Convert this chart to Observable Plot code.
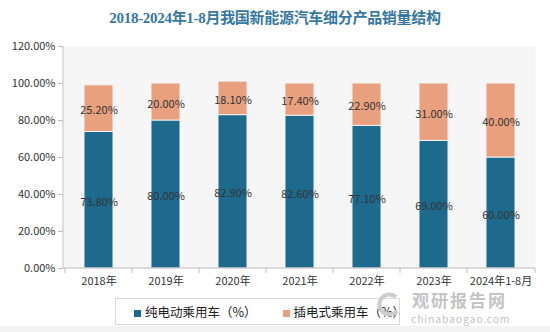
<!DOCTYPE html>
<html><head><meta charset="utf-8">
<script src="https://cdn.jsdelivr.net/npm/d3@7"></script>
<script src="https://cdn.jsdelivr.net/npm/@observablehq/plot@0.6"></script>
<style>
body{margin:0;background:#fff;font-family:"Noto Sans CJK SC","Noto Sans",sans-serif;}
#wrap{position:relative;width:550px;height:332px;overflow:hidden;}
#title{position:absolute;left:0;top:6px;width:550px;text-align:center;font-size:15px;font-weight:bold;color:#37789f;letter-spacing:-0.3px;font-family:"Liberation Serif","Noto Sans CJK SC",serif;}
#chart{position:absolute;left:0;top:36px;}
#legend{position:absolute;left:115px;top:298px;width:285px;height:27px;border:1px solid #d9d9d9;box-sizing:border-box;font-size:12.5px;color:#222;display:flex;align-items:center;gap:26px;padding-left:18px;white-space:nowrap;}
#legend span.sw{display:inline-block;width:7px;height:7px;margin-right:4px;vertical-align:middle;}
#wm{position:absolute;left:408px;top:291px;color:#c4c4c4;}
#wm .a{font-size:17px;font-weight:bold;letter-spacing:2px;position:absolute;left:4px;top:0px;white-space:nowrap;line-height:18px;}
#wm .b{font-size:10.5px;position:absolute;left:3px;top:22px;white-space:nowrap;letter-spacing:0.8px;line-height:11px;}
#bottom{position:absolute;left:0;top:326px;width:550px;height:6px;background:#f3f3f3;}
</style></head>
<body><div id="wrap">
<div id="title">2018-2024年1-8月我国新能源汽车细分产品销量结构</div>
<div id="chart"></div>
<div id="legend"></div>
<div id="wm"><svg width="30" height="30" style="position:absolute;left:-34px;top:-1px"><path d="M22 7 A10 10 0 1 0 23 21" fill="none" stroke="#cccccc" stroke-width="4"/></svg><div class="a">观研报告网</div><div class="b">chinabaogao.com</div></div>
<div id="bottom"></div>
</div>
<script>
const years = ["2018年","2019年","2020年","2021年","2022年","2023年","2024年1-8月"];
const bev = [73.8, 80.0, 82.9, 82.6, 77.1, 69.0, 60.0];
const phev = [25.2, 20.0, 18.1, 17.4, 22.9, 31.0, 40.0];
const seriesNames = ["纯电动乘用车（%）","插电式乘用车（%）"];
const colors = ["#1d6a8d","#e8a07e"];
const yTicks = [0,20,40,60,80,100,120];

const rows = [];
years.forEach((y,i)=>{
  rows.push({year:y, s:seriesNames[0], v:bev[i]});
  rows.push({year:y, s:seriesNames[1], v:phev[i]});
});

const fmt = v => v.toFixed(2) + "%";

const axisLines = (index, scales, values, dims) => {
  const g = d3.create("svg:g");
  const x = scales.x, step = x.step();
  const y0 = dims.height - dims.marginBottom;
  const xs = years.map(d => x(d) - (step - x.bandwidth())/2);
  xs.push(dims.width - dims.marginRight);
  xs.forEach(px => g.append("line").attr("x1",px).attr("x2",px).attr("y1",y0).attr("y2",y0+5).attr("stroke","#bfbfbf"));
  g.append("line").attr("x1",dims.marginLeft).attr("x2",dims.width-dims.marginRight).attr("y1",y0).attr("y2",y0).attr("stroke","#bfbfbf");
  g.append("line").attr("x1",dims.marginLeft).attr("x2",dims.marginLeft).attr("y1",dims.marginTop).attr("y2",y0).attr("stroke","#bfbfbf");
  return g.node();
};

const chart = Plot.plot({
  width: 550, height: 260,
  marginTop: 10, marginBottom: 28, marginLeft: 63, marginRight: 15,
  style: {fontFamily: '"Noto Sans CJK SC","Noto Sans",sans-serif', fontSize: "11px", color: "#333"},
  x: {domain: years, paddingInner: 0.57, paddingOuter: 0.285, label: null},
  y: {domain: [0,120], ticks: yTicks, label: null, tickFormat: fmt},
  color: {domain: seriesNames, range: colors},
  marks: [
    Plot.frame({fill: "url(#hatch)", stroke: null}),
    Plot.axisY({ticks: yTicks, tickFormat: fmt, tickSize: 5, stroke: "#bfbfbf", fill: "#333", fontSize: 11, tickPadding: 3}),
    Plot.axisX({tickSize: 0, tickPadding: 9, fill: "#333", fontSize: 11}),
    Plot.barY(rows, Plot.stackY({x: "year", y: "v", fill: "s", order: seriesNames, stroke: "#f2f2f2", strokeWidth: 1, style: "filter: drop-shadow(3px 2px 2px rgba(0,0,0,0.25))"})),
    Plot.text(rows, Plot.stackY({x: "year", y: "v", z: "s", order: seriesNames, text: d => fmt(d.v), fill: "#333", fontSize: 11, dy: 2})),
    axisLines
  ]
});
const defs = d3.select(chart).insert("defs", ":first-child");
const p = defs.append("pattern").attr("id","hatch").attr("patternUnits","userSpaceOnUse").attr("width",4).attr("height",4);
p.append("rect").attr("width",4).attr("height",4).attr("fill","#fafafa");
p.append("path").attr("d","M-1,1 l2,-2 M0,4 l4,-4 M3,5 l2,-2").attr("stroke","#e4e4e4").attr("stroke-width",0.8);
document.getElementById("chart").appendChild(chart);

const leg = document.getElementById("legend");
seriesNames.forEach((n,i)=>{
  const d = document.createElement("div");
  d.innerHTML = `<span class="sw" style="background:${colors[i]}"></span>${n}`;
  leg.appendChild(d);
});
</script>
</body></html>
